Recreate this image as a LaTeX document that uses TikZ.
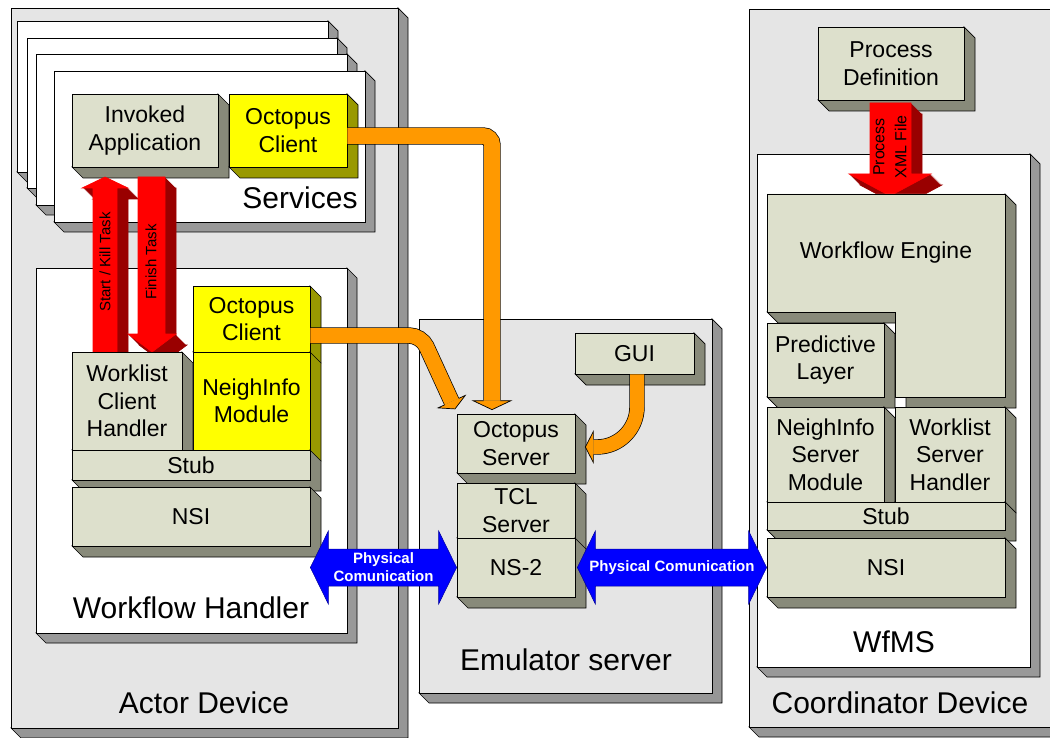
\documentclass[tikz,border=0pt]{standalone}
\usepackage{fontspec}
\setmainfont{Liberation Sans}
\usetikzlibrary{calc}
\definecolor{devgrey}{RGB}{229,229,229}
\definecolor{devgreyside}{RGB}{150,150,150}
\definecolor{shadowgrey}{RGB}{153,153,153}
\definecolor{boxbeige}{RGB}{221,224,204}
\definecolor{boxbeigeside}{RGB}{136,138,122}
\definecolor{boxyellow}{RGB}{255,255,0}
\definecolor{boxyellowside}{RGB}{153,153,0}
\definecolor{taskred}{RGB}{255,0,0}
\definecolor{taskredside}{RGB}{153,0,0}
\definecolor{pipeorange}{RGB}{255,153,0}
\definecolor{linkblue}{RGB}{0,0,255}

\newcommand\slabdepth{11}
% 3D box: kind, name, x1, y1, x2, y2, text
\newcommand\slab[7]{%
  \filldraw[#1side] (#5,#4) -- ++(\slabdepth,\slabdepth) -- ++(0,#6-#4) -- ++(#3-#5,0) -- (#3,#6) -- (#5,#6) -- cycle;
  \node[#1face, minimum width=#5-#3, minimum height=#6-#4] (#2) at ({(#3+#5)/2},{(#4+#6)/2}) {#7};
}
% extruded red arrow
\newcommand\solidarrow[1]{%
  \foreach \k in {1,...,10}{\fill[taskredside, shift={(\k,\k)}] #1;}
  \filldraw[taskredside, line width=0.6pt, shift={(11,11)}] #1;
  \filldraw[taskred, line width=0.6pt] #1;
}
% head of an orange pipe: end, back point, shaft half, head half, length
\newcommand\pipehead[5]{%
  \path[fill=pipeorange] ($(#1)!#4!90:(#2)$) -- ($(#1)!-#5!(#2)$) -- ($(#1)!#4!-90:(#2)$) -- cycle;
  \draw[line width=0.7pt] ($(#1)!#3!90:(#2)$) -- ($(#1)!#4!90:(#2)$) -- ($(#1)!-#5!(#2)$) -- ($(#1)!#4!-90:(#2)$) -- ($(#1)!#3!-90:(#2)$);
}
% blue double arrow between two tips
\newcommand\pcarrow[2]{%
  \filldraw[linkblue, draw=linkblue!60!black, line width=0.5pt] (#1) -- ($(#1)+(18,-36.5)$) -- ($(#1)+(18,-18.5)$) -- ($(#2)+(-18,-18.5)$) -- ($(#2)+(-18,-36.5)$) -- (#2) -- ($(#2)+(-18,36.5)$) -- ($(#2)+(-18,18.5)$) -- ($(#1)+(18,18.5)$) -- ($(#1)+(18,36.5)$) -- cycle;
}

\begin{document}
\begin{tikzpicture}[x=1pt, y=-1pt]
    \tikzstyle{greyface} = [draw, line width=0.7pt, fill=devgrey, inner sep=0pt]
    \tikzstyle{greyside} = [draw, line width=0.7pt, fill=devgreyside]
    \tikzstyle{whiteface} = [draw, line width=0.7pt, fill=white, inner sep=0pt]
    \tikzstyle{whiteside} = [draw, line width=0.7pt, fill=shadowgrey]
    \tikzstyle{beigeface} = [draw, line width=0.7pt, fill=boxbeige, inner sep=0pt, align=center, font=\fontsize{23}{27.5}\selectfont]
    \tikzstyle{beigeside} = [draw, line width=0.7pt, fill=boxbeigeside]
    \tikzstyle{yellowface} = [draw, line width=0.7pt, fill=boxyellow, inner sep=0pt, align=center, font=\fontsize{23}{27.5}\selectfont]
    \tikzstyle{yellowside} = [draw, line width=0.7pt, fill=boxyellowside]
    \tikzstyle{devlabel} = [inner sep=0pt, font=\fontsize{30}{36}\selectfont]
    \tikzstyle{tasktext} = [inner sep=0pt, font=\fontsize{15}{18}\selectfont]
    \tikzstyle{pctext} = [inner sep=0pt, align=center, text=white, font=\bfseries\fontsize{15}{18}\selectfont]
    \tikzstyle{pipe} = [double=pipeorange, line width=0.7pt]

    \useasboundingbox (0,0) rectangle (1050,738);
    \clip (0,0) rectangle (1050,738);

    % Devices
    \renewcommand\slabdepth{10}
    \slab{grey}{actor}{11}{8}{398}{728}{}
    \slab{grey}{emul}{419}{319}{712}{693}{}
    \slab{grey}{coord}{749}{9}{1062}{727}{}

    % White containers
    \slab{white}{svc1}{17}{21}{328}{172}{}
    \slab{white}{svc2}{27}{38}{337}{188}{}
    \slab{white}{svc3}{36}{54}{347}{205}{}
    \slab{white}{svc4}{54}{71}{365}{222}{}
    \slab{white}{wh}{36}{268}{347}{633}{}
    \slab{white}{wfms}{757}{154}{1030}{667}{}

    % Labels
    \node[devlabel] (servlbl) at (300,198) {Services};
    \node[devlabel] (whlbl) at (191,608) {Workflow Handler};
    \node[devlabel] (actlbl) at (204,703) {Actor Device};
    \node[devlabel] (emullbl) at (566,660) {Emulator server};
    \node[devlabel] (wfmslbl) at (894,642) {WfMS};
    \node[devlabel] (coordlbl) at (900,703) {Coordinator Device};

    % Services boxes
    \renewcommand\slabdepth{11}
    \slab{beige}{inv}{72}{94}{218}{167}{Invoked\\Application}
    \slab{yellow}{octS}{229}{94}{347}{167}{Octopus\\Client}
    \slab{beige}{pdef}{818}{27}{964}{100}{Process\\Definition}

    % Task arrows
    \solidarrow{(93,352) -- (93,188) -- (82,188) -- (105,177) -- (128,188) -- (117,188) -- (117,352) -- cycle}
    \solidarrow{(138,177) -- (165,177) -- (165,334) -- (176,334) -- (152,352) -- (128,334) -- (138,334) -- cycle}
    \solidarrow{(870,103) -- (911,103) -- (911,174) -- (931,174) -- (890,196) -- (849,174) -- (870,174) -- cycle}
    \node[tasktext, rotate=90] (sktxt) at (105,262) {Start / Kill Task};
    \node[tasktext, rotate=90] (fttxt) at (151,262) {Finish Task};
    \node[tasktext, rotate=90, align=center, font=\fontsize{16}{22}\selectfont] (xmltxt) at (890,147) {Process\\XML File};

    % Workflow Handler
    \slab{yellow}{octW}{193}{286}{310}{352}{Octopus\\Client}
    \slab{yellow}{nim}{193}{352}{310}{450}{NeighInfo\\Module}
    \slab{beige}{wlc}{72}{352}{182}{450}{Worklist\\Client\\Handler}
    \slab{beige}{stubL}{72}{450}{310}{480}{Stub}
    \slab{beige}{nsiL}{72}{487}{310}{546}{NSI}

    % WfMS
    \filldraw[beigeside] (767,312) -- (778,323) -- (906,323) -- (906,408) -- (1016,408) -- (1016,205) -- (1005,194) -- cycle;
    \filldraw[beigeface] (767,194) -- (1005,194) -- (1005,397) -- (895,397) -- (895,312) -- (767,312) -- cycle;
    \node[inner sep=0pt, font=\fontsize{23}{27.5}\selectfont] (engine) at (886,253) {Workflow Engine};
    \slab{beige}{pred}{767}{323}{884}{397}{Predictive\\Layer}
    \slab{beige}{nism}{767}{407}{884}{502}{NeighInfo\\Server\\Module}
    \slab{beige}{wlsh}{895}{407}{1005}{502}{Worklist\\Server\\Handler}
    \slab{beige}{stubR}{767}{502}{1005}{530}{Stub}
    \slab{beige}{nsiR}{767}{538}{1005}{597}{NSI}

    % Emulator
    \slab{beige}{gui}{575}{333}{694}{374}{GUI}
    \slab{beige}{ocs}{457}{414}{575}{473}{Octopus\\Server}
    \slab{beige}{tcl}{457}{483}{575}{538}{TCL\\Server}
    \slab{beige}{ns2}{457}{538}{575}{597}{NS-2}

    % Octopus pipes
    \coordinate (o1s) at ($(octS.east)+(0,5.5)$);
    \coordinate (o1e) at ($(ocs.north)+(-24,-13)$);
    \coordinate (o1k) at (o1s -| o1e);
    \draw[pipe, double distance=16pt, rounded corners=9] (o1s) -| (o1e);
    \pipehead{o1e}{o1k}{8.4pt}{19pt}{9pt}

    \coordinate (o2s) at ($(octW.east)+(0,16.5)$);
    \coordinate (o2k) at ($(o2s)+(111,0)$);
    \coordinate (o2e) at ($(ocs.north west)+(-5,-12)$);
    \draw[pipe, double distance=15pt, rounded corners=12] (o2s) -- (o2k) -- (o2e);
    \pipehead{o2e}{o2k}{7.9pt}{15pt}{8pt}

    \coordinate (o3s) at ($(gui.south)+(2.5,0)$);
    \coordinate (o3e) at ($(ocs.east)+(18,3.5)$);
    \coordinate (o3k) at (o3s |- o3e);
    \draw[pipe, double distance=14pt, rounded corners=40] (o3s) |- (o3e);
    \pipehead{o3e}{o3k}{7.4pt}{15.5pt}{8pt}

    % Physical links
    \coordinate (pc1a) at (nsiL.south east |- ns2.west);
    \coordinate (pc2a) at ($(ns2.east)+(2,0)$);
    \pcarrow{pc1a}{ns2.west}
    \pcarrow{pc2a}{nsiR.west}
    \node[pctext] (pc1lbl) at ($(pc1a)!0.5!(ns2.west)$) {Physical\\Comunication};
    \node[pctext] (pc2lbl) at ($(pc2a)!0.5!(nsiR.west)$) {Physical Comunication};
\end{tikzpicture}
\end{document}
